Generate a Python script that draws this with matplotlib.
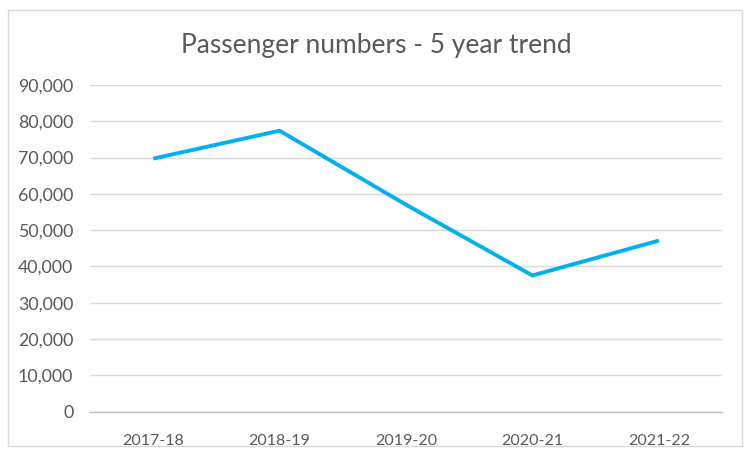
import matplotlib
matplotlib.use("Agg")
import matplotlib.pyplot as plt
from matplotlib.patches import Rectangle
from matplotlib.ticker import FuncFormatter

years = ["2017-18", "2018-19", "2019-20", "2020-21", "2021-22"]
passengers = [69700, 77400, 57000, 37500, 47100]
y_ticks = list(range(0, 90001, 10000))

W, H = 749, 455
fig = plt.figure(figsize=(W / 100, H / 100), dpi=100)
fig.patch.set_facecolor("white")

# chart-area border
fig.add_artist(Rectangle((8 / W, 1 - 446 / H), (742 - 8) / W, (446 - 10) / H,
                         transform=fig.transFigure, fill=False,
                         edgecolor="#d9d9d9", linewidth=1.0))

ax = fig.add_axes([90 / W, 1 - 411.5 / H, (722 - 90) / W, (411.5 - 85) / H])
x = range(len(years))
ax.plot(x, passengers, color="#00b0f0", linewidth=2.8, solid_joinstyle="round",
        solid_capstyle="butt", zorder=3)

ax.set_xlim(-0.5, len(years) - 0.5)
ax.set_ylim(0, 90000)
ax.set_yticks(y_ticks)
ax.yaxis.set_major_formatter(FuncFormatter(lambda v, p: f"{int(v):,}"))
ax.set_xticks(list(x))
ax.set_xticklabels(years)

ax.grid(axis="y", color="#d9d9d9", linewidth=1.0, zorder=0)
ax.set_axisbelow(True)
for side in ("top", "right", "left"):
    ax.spines[side].set_visible(False)
ax.spines["bottom"].set_color("#bfbfbf")
ax.spines["bottom"].set_linewidth(1.0)
ax.tick_params(axis="both", length=0, labelcolor="#595959")
ax.tick_params(axis="y", pad=12, labelsize=12.8)
ax.tick_params(axis="x", pad=16, labelsize=11.5)
for lab in ax.get_xticklabels() + ax.get_yticklabels():
    lab.set_fontfamily("Lato")

fig.text(376 / W, 1 - 45 / H, "Passenger numbers - 5 year trend", ha="center",
         va="center", fontsize=19, color="#595959", family="Lato")

fig.savefig("out.png", dpi=100, facecolor="white")
